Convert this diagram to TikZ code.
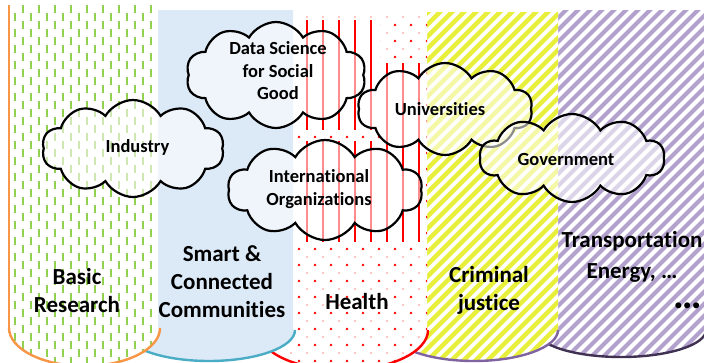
\documentclass[tikz,border=0pt]{standalone}
\usepackage{fontspec}
\setmainfont{Carlito}[Ligatures=NoCommon]
\usetikzlibrary{shapes.symbols}
\definecolor{cgreen}{RGB}{146,208,80}
\definecolor{cblue}{RGB}{220,233,247}
\definecolor{corange}{RGB}{247,150,70}
\definecolor{cteal}{RGB}{75,172,198}
\definecolor{cred}{RGB}{255,0,0}
\definecolor{cyellow}{RGB}{232,239,58}
\definecolor{cpurple}{RGB}{128,100,162}
\definecolor{clav}{RGB}{178,161,205}
\definecolor{cdpurple}{RGB}{64,49,82}
% clip: xl xr top yb el er ry
\newcommand\myclip[7]{%
  \pgfmathsetmacro\mcx{(#5+#6)/2}%
  \pgfmathsetmacro\mrx{(#6-#5)/2}%
  \clip (#1,#3) -- (#1,#4) -- (#5,#4) .. controls (#5,{#4+0.5523*#7}) and ({\mcx-0.5523*\mrx},{#4+#7}) .. (\mcx,{#4+#7}) .. controls ({\mcx+0.5523*\mrx},{#4+#7}) and (#6,{#4+0.5523*#7}) .. (#6,#4) -- (#2,#4) -- (#2,#3) -- cycle;}
% arc: el er yb ry color
\newcommand\myarc[5]{%
  \pgfmathsetmacro\mcx{(#1+#2)/2}%
  \pgfmathsetmacro\mrx{(#2-#1)/2}%
  \draw[#5, line width=2.4pt] (#1,#3) .. controls (#1,{#3+0.5523*#4}) and ({\mcx-0.5523*\mrx},{#3+#4}) .. (\mcx,{#3+#4}) .. controls ({\mcx+0.5523*\mrx},{#3+#4}) and (#2,{#3+0.5523*#4}) .. (#2,#3);}
\tikzset{
  lab/.style={font=\fontsize{23}{28}\selectfont\bfseries, align=center, inner sep=0pt, text=black},
  clab/.style={font=\fontsize{18.5}{22.5}\selectfont\bfseries, align=center, inner sep=0pt, text=black},
  cloudbox/.style={cloud, cloud puffs=10, cloud puff arc=120, cloud ignores aspect, draw=black, line width=2.2pt, fill=white, fill opacity=0.55, inner sep=0pt},
  redline/.style={cred, line width=1.8pt}
}
\begin{document}
\begin{tikzpicture}[x=1pt,y=-1pt]
\useasboundingbox (0,0) rectangle (704,362);
% ---- column 5: transportation
\begin{scope}
\myclip{558}{712}{10}{330}{536}{706}{27}
\fill[white] (500,0) rectangle (720,380);
\foreach \s in {160,172,...,716} \draw[clav, line width=4pt] (\s,380) -- ({\s+380},0);
\end{scope}
\myarc{536}{706}{330}{27}{cdpurple}
% ---- column 4: criminal justice
\begin{scope}
\myclip{427}{558}{12}{330}{390}{558}{31}
\fill[white] (380,0) rectangle (570,380);
\foreach \s in {0,12,...,564} \draw[cyellow, line width=4.5pt] (\s,380) -- ({\s+380},0);
\end{scope}
\myarc{390}{558}{330}{31}{cpurple}
% ---- column 3: health
\begin{scope}
\myclip{293}{427}{15}{330}{258}{428}{40}
\fill[white] (250,0) rectangle (440,380);
\foreach \i in {0,...,8} \foreach \j in {0,...,22} {
  \fill[cred] ({299+16*\i},{25+16*\j}) circle (1.3pt);
  \fill[cred] ({291+16*\i},{17+16*\j}) circle (0.7pt);
}
\fill[white] (297,18) rectangle (380,131);
\fill[white] (380,60) rectangle (426,244);
\fill[white] (297,140) rectangle (380,244);
\foreach \x in {307,323,339,355,371} {
  \draw[redline] (\x,20) -- (\x,130);
  \draw[redline] (\x,141) -- (\x,242);
}
\foreach \x in {387,403,419} \draw[redline] (\x,63) -- (\x,242);
\end{scope}
\myarc{258}{428}{330}{40}{cred}
% ---- column 2: smart & connected
\begin{scope}
\myclip{158}{293}{10}{330}{123}{295}{31}
\fill[cblue] (100,0) rectangle (300,380);
\end{scope}
\myarc{123}{295}{330}{31}{cteal}
% ---- column 1: basic research
\begin{scope}
\myclip{9}{158}{5}{328}{9}{160}{38}
\fill[white] (0,0) rectangle (170,380);
\foreach \k in {0,...,17} {
  \pgfmathsetmacro\xx{15+8*\k}
  \pgfmathsetmacro\ph{mod(\k+1,2)*8}
  \draw[cgreen, line width=2pt, dash pattern=on 8pt off 8pt, dash phase=\ph pt] (\xx,5) -- (\xx,372);
}
\end{scope}
\myarc{9}{160}{328}{38}{corange}
\draw[corange, line width=1.5pt] (9,5) -- (9,328);
% ---- clouds
\node[cloudbox, minimum width=182pt, minimum height=97pt] (ind) at (133,148.5) {};
\node[cloudbox, minimum width=180pt, minimum height=106pt] (dss) at (276,75) {};
\node[cloudbox, minimum width=175pt, minimum height=92pt] (uni) at (445,109) {};
\node[cloudbox, minimum width=195pt, minimum height=100pt] (ino) at (325,190) {};
\node[cloudbox, minimum width=185pt, minimum height=88pt] (gov) at (572,158) {};
\node[clab] (indl) at (137.5,147.3) {Industry};
\node[clab] (dssl) at (278,71) {Data Science\\for Social\\Good};
\node[clab] (unil) at (440,108.6) {Universities};
\node[clab] (inol) at (319,189.3) {International\\Organizations};
\node[clab] (govl) at (566,159.2) {Government};
% ---- column labels
\node[lab] (br) at (77,290.8) {Basic\\Research};
\node[lab] (scc) at (222,281.8) {Smart \&\\Connected\\Communities};
\node[lab] (hl) at (357,301.8) {Health};
\node[lab] (cj) at (489,290.1) {Criminal\\justice};
\node[lab, font=\fontsize{23}{31}\selectfont\bfseries] (te) at (632,257) {Transportation\\Energy, …};
\node[font=\fontsize{40}{40}\selectfont\bfseries, inner sep=0pt] (dots) at (688,306) {…};
\end{tikzpicture}
\end{document}
